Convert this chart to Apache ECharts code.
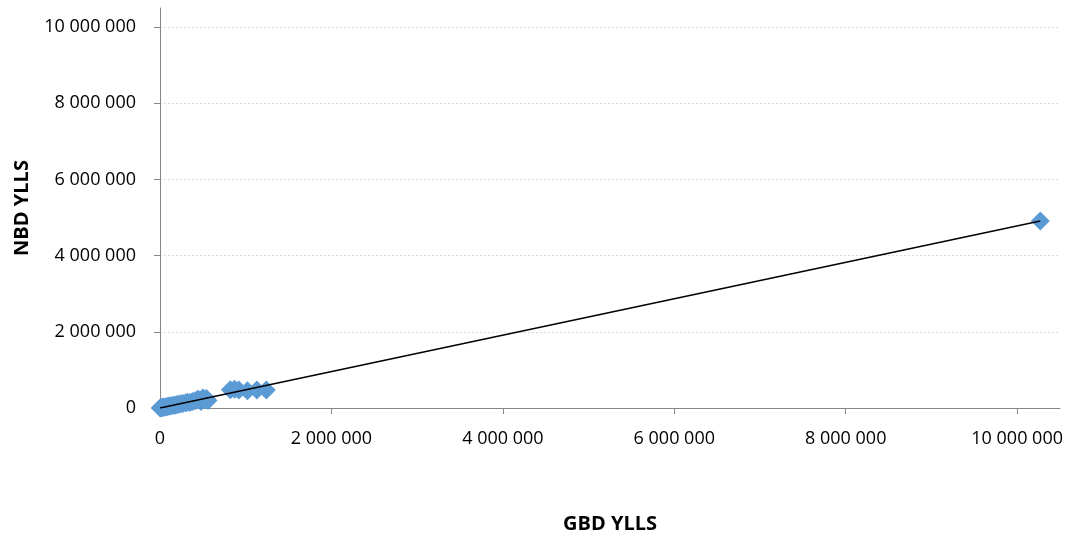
<!DOCTYPE html>
<html>
<head>
<meta charset="utf-8">
<script src="https://cdn.jsdelivr.net/npm/echarts@6/dist/echarts.min.js"></script>
<style>html,body{margin:0;padding:0;background:#fff}#c{width:1066px;height:539px}</style>
</head>
<body>
<div id="c"></div>
<script>
// GBD YLLS (x) vs NBD YLLS (y)
const gbdYlls = [2000, 8000, 15000, 25000, 35000, 45000, 60000, 75000, 90000, 105000, 120000, 140000, 160000, 180000, 200000, 220000, 245000, 270000, 300000, 320000, 350000, 380000, 410000, 440000, 460000, 480000, 500000, 520000, 540000, 560000, 820000, 870000, 920000, 1020000, 1130000, 1240000, 10270000];
const nbdYlls = [1000, 4000, 6000, 10000, 18000, 22000, 28000, 35000, 40000, 55000, 50000, 65000, 75000, 70000, 95000, 100000, 110000, 120000, 135000, 150000, 145000, 170000, 190000, 230000, 210000, 170000, 260000, 220000, 250000, 200000, 480000, 490000, 470000, 455000, 475000, 470000, 4910000];
// Linear trendline end points
const trendX = [0, 10270000];
const trendY = [0, 4910000];
const tickValues = [0, 2000000, 4000000, 6000000, 8000000, 10000000];
const gridValues = [2000000, 4000000, 6000000, 8000000, 10000000];
const axisMax = 10500000;

const fmt = v => String(v).replace(/\B(?=(\d{3})+(?!\d))/g, ' ');
const FONT = 'Open Sans';

const chart = echarts.init(document.getElementById('c'), null, {renderer: 'canvas'});
chart.setOption({
  animation: false,
  backgroundColor: '#fff',
  grid: {left: 160, right: 5, top: 8, bottom: 131, containLabel: false},
  xAxis: {
    type: 'value', min: 0, max: axisMax, interval: 2000000,
    name: 'GBD YLLS', nameLocation: 'middle', nameGap: 106,
    nameTextStyle: {fontFamily: FONT, fontWeight: 'bold', fontSize: 20, color: '#000'},
    axisLine: {show: true, lineStyle: {color: '#868686', width: 1}},
    axisTick: {show: true, length: 6, customValues: tickValues, lineStyle: {color: '#868686'}},
    axisLabel: {customValues: tickValues, formatter: fmt, margin: 22, fontFamily: FONT, fontSize: 18, color: '#000'},
    splitLine: {show: false}
  },
  yAxis: {
    type: 'value', min: 0, max: axisMax, interval: 2000000,
    name: 'NBD YLLS', nameLocation: 'middle', nameGap: 128, nameRotate: 90,
    nameTextStyle: {fontFamily: FONT, fontWeight: 'bold', fontSize: 20, color: '#000'},
    axisLine: {show: true, lineStyle: {color: '#868686', width: 1}},
    axisTick: {show: true, length: 6, customValues: tickValues, lineStyle: {color: '#868686'}},
    axisLabel: {customValues: tickValues, formatter: fmt, margin: 24, fontFamily: FONT, fontSize: 18, color: '#000'},
    splitLine: {show: false}
  },
  series: [
    {
      type: 'scatter',
      data: gbdYlls.map((x, i) => [x, nbdYlls[i]]),
      symbol: 'diamond',
      symbolSize: 19,
      itemStyle: {color: '#5B9BD5', opacity: 1},
      clip: false,
      markLine: {
        silent: true, symbol: 'none', label: {show: false},
        lineStyle: {color: '#DDDDDD', type: [2, 2], width: 1},
        data: gridValues.map(v => ({yAxis: v})),
        z: 0
      },
      z: 2
    },
    {
      type: 'line',
      data: trendX.map((x, i) => [x, trendY[i]]),
      symbol: 'none',
      lineStyle: {color: '#000', width: 1.4},
      z: 3
    }
  ]
});
</script>
</body>
</html>
